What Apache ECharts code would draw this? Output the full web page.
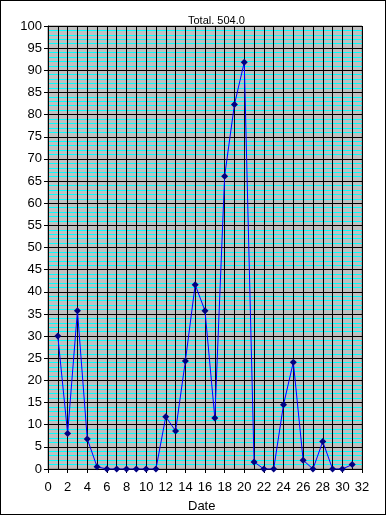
<!DOCTYPE html>
<html><head><meta charset="utf-8">
<script src="https://cdn.jsdelivr.net/npm/echarts@6/dist/echarts.min.js"></script>
<style>
html,body{margin:0;padding:0;background:#fff;}
#c{width:386px;height:515px;box-sizing:border-box;border:1px solid #000;}
</style></head><body>
<div id="c"></div>
<script>
var titleText = 'Total. 504.0';
var xName = 'Date';
var days = [1,2,3,4,5,6,7,8,9,10,11,12,13,14,15,16,17,18,19,20,21,22,23,24,25,26,27,28,29,30,31];
var values = [30,8,35.7,6.8,0.5,0,0,0,0,0,0,11.8,8.6,24.4,41.6,35.7,11.5,66.1,82.3,91.8,1.6,0,0,14.5,24.1,2,0,6.2,0,0,1];

var chart = echarts.init(document.getElementById('c'), null, {renderer:'canvas'});
var font = 'Liberation Sans, Arial, sans-serif';
chart.setOption({
  animation:false,
  backgroundColor:'#fff',
  title:[
    {text:titleText, left:182, top:9, textStyle:{fontFamily:font, fontSize:11, fontWeight:'normal', color:'#000'}},
    {text:xName, left:182, top:494, textStyle:{fontFamily:font, fontSize:13, fontWeight:'normal', color:'#000'}}
  ],
  grid:{left:47, top:25, right:23, bottom:45, show:true, backgroundColor:'#c0c0c0', borderColor:'#808080', borderWidth:1},
  xAxis:{
    type:'value', min:0, max:32, interval:2, z:1,
    axisLine:{show:true, lineStyle:{color:'#000', width:1}},
    axisTick:{show:true, length:4, lineStyle:{color:'#000'}},
    axisLabel:{fontFamily:font, fontSize:13, color:'#000', margin:12},
    splitLine:{show:true, lineStyle:{color:'#000', width:1}},
    minorTick:{show:false, splitNumber:2},
    minorSplitLine:{show:true, lineStyle:{color:'#000', width:1}}
  },
  yAxis:{
    type:'value', min:0, max:100, interval:5,
    axisLine:{show:true, lineStyle:{color:'#000', width:1}},
    axisTick:{show:true, length:4, lineStyle:{color:'#000'}},
    axisLabel:{fontFamily:font, fontSize:13, color:'#000', margin:6},
    splitLine:{show:true, lineStyle:{color:'#000', width:1}},
    minorTick:{show:false, splitNumber:5},
    minorSplitLine:{show:true, lineStyle:{color:'#00ffff', width:1}}
  },
  series:[{
    type:'line',
    data:days.map(function(d,i){return [d, values[i]];}),
    symbol:'diamond', symbolSize:7,
    itemStyle:{color:'#000080'},
    lineStyle:{color:'#0000ff', width:1},
    z:5
  }]
});
</script>
</body></html>
